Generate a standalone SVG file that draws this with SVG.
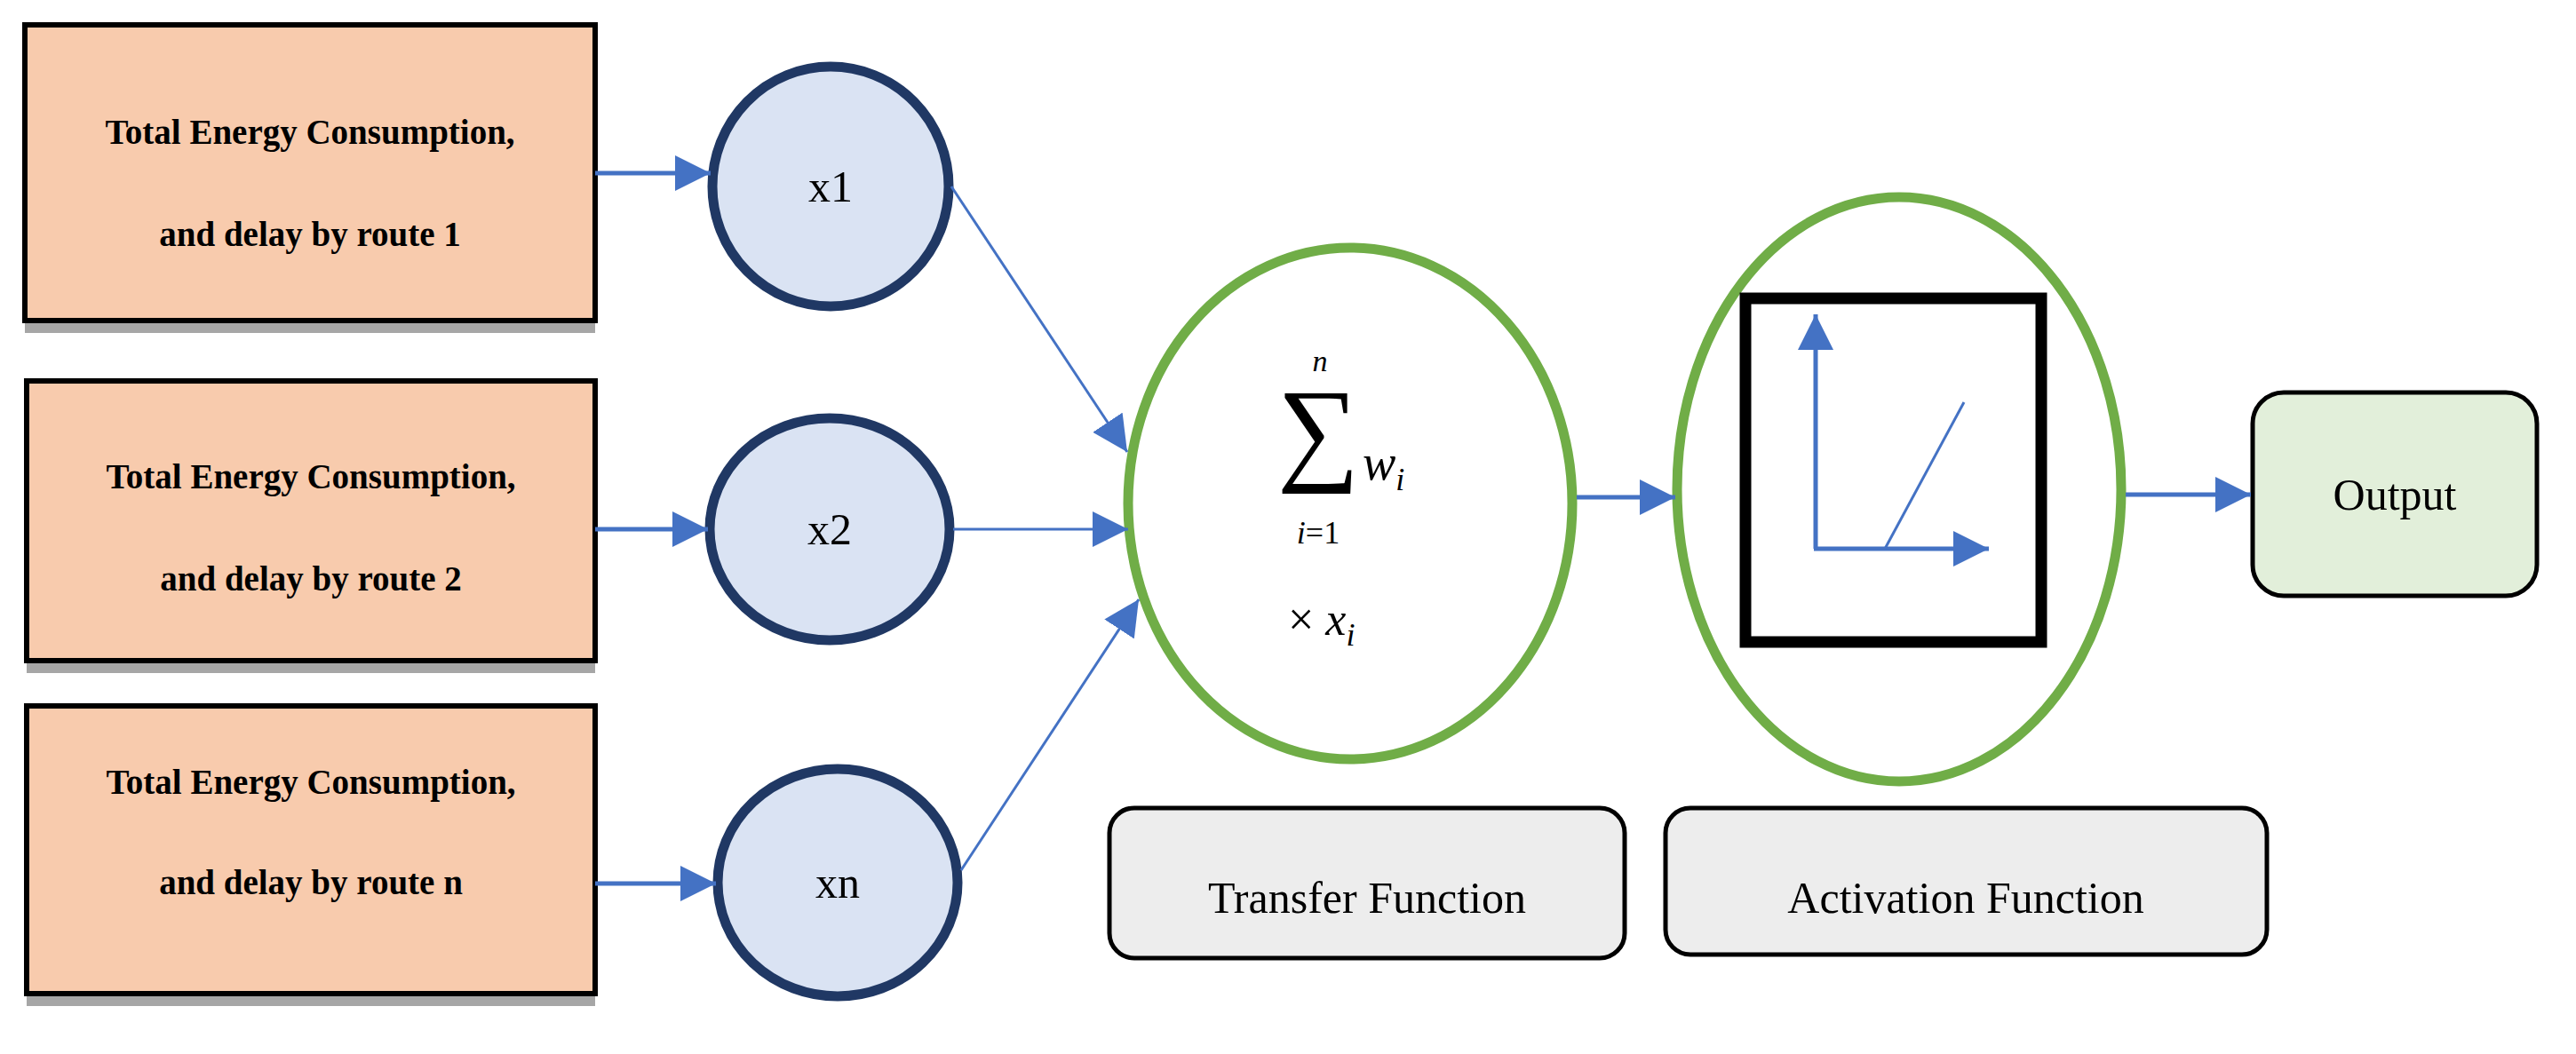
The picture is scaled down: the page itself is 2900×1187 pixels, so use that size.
<svg xmlns="http://www.w3.org/2000/svg" width="2900" height="1187" viewBox="0 0 2900 1187">
<style>
.box{fill:#f8cbad;stroke:#000;stroke-width:6}
.sh{fill:#a6a6a6}
.bt{font-family:"Liberation Serif",serif;font-weight:bold;font-size:39px;text-anchor:middle}
.cir{fill:#dae3f3;stroke:#203864;stroke-width:11}
.t{font-family:"Liberation Serif",serif;font-size:50px;text-anchor:middle}
.m{font-family:"Liberation Serif",serif;font-style:italic}
.g{fill:#fff;stroke:#70ad47;stroke-width:11}
.lab{fill:#ededed;stroke:#000;stroke-width:5}
.c{stroke:#4472c4;stroke-width:3;fill:none}
.c2{stroke:#4472c4;stroke-width:5;fill:none}
</style>
<defs>
<marker id="b" viewBox="0 0 10 10" refX="10" refY="5" markerWidth="40" markerHeight="40" markerUnits="userSpaceOnUse" orient="auto"><path d="M0,0L10,5L0,10z" fill="#4472c4"/></marker>
</defs>
<g id="in1"><rect class="sh" x="28" y="340" width="642" height="35"/><rect class="box" x="28" y="28" width="642" height="333"/><text class="bt" x="349" y="162">Total Energy Consumption,</text><text class="bt" x="349" y="277">and delay by route 1</text></g>
<g id="in2"><rect class="sh" x="30" y="720" width="640" height="38"/><rect class="box" x="30" y="429" width="640" height="315"/><text class="bt" x="350" y="550">Total Energy Consumption,</text><text class="bt" x="350" y="665">and delay by route 2</text></g>
<g id="in3"><rect class="sh" x="30" y="1100" width="640" height="33"/><rect class="box" x="30" y="795" width="640" height="324"/><text class="bt" x="350" y="894">Total Energy Consumption,</text><text class="bt" x="350" y="1007">and delay by route n</text></g>
<g id="x1"><ellipse class="cir" cx="935" cy="210" rx="133" ry="135"/><text class="t" x="935" y="227">x1</text></g>
<g id="x2"><ellipse class="cir" cx="934" cy="596" rx="135" ry="125"/><text class="t" x="934" y="613">x2</text></g>
<g id="xn"><ellipse class="cir" cx="943" cy="994" rx="135" ry="128"/><text class="t" x="943" y="1011">xn</text></g>
<g id="transfer"><ellipse class="g" cx="1520" cy="567" rx="250" ry="288"/>
<text class="m" x="1486" y="418" font-size="34" text-anchor="middle">n</text>
<text x="1484" y="528" font-family="Liberation Serif,serif" font-size="130" text-anchor="middle">∑</text>
<text class="m" x="1534" y="540" font-size="56">w<tspan font-size="36" dy="12">i</tspan></text>
<text class="m" x="1484" y="612" font-size="36" text-anchor="middle">i<tspan font-style="normal">=1</tspan></text>
<text x="1450" y="715" font-family="Liberation Serif,serif" font-size="52">× <tspan font-style="italic">x</tspan><tspan font-style="italic" font-size="36" dy="12">i</tspan></text>
</g>
<g id="activation"><ellipse class="g" cx="2138" cy="551" rx="250" ry="329"/>
<rect x="1965" y="336" width="333" height="387" fill="#fff" stroke="#000" stroke-width="13"/>
<line class="c2" x1="2044" y1="618" x2="2044" y2="354" marker-end="url(#b)"/>
<line class="c2" x1="2042" y1="618" x2="2239" y2="618" marker-end="url(#b)"/>
<line class="c" x1="2122" y1="618" x2="2211" y2="453"/>
</g>
<g id="output"><rect x="2536" y="442" width="320" height="229" rx="35" fill="#e2efda" stroke="#000" stroke-width="5"/><text class="t" x="2696" y="574">Output</text></g>
<g id="lbl1"><rect class="lab" x="1249" y="910" width="580" height="169" rx="28"/><text class="t" x="1539" y="1028">Transfer Function</text></g>
<g id="lbl2"><rect class="lab" x="1875" y="910" width="677" height="165" rx="28"/><text class="t" x="2213" y="1028">Activation Function</text></g>
<g id="connectors">
<line class="c2" x1="670" y1="195" x2="800" y2="195" marker-end="url(#b)"/>
<line class="c2" x1="670" y1="596" x2="797" y2="596" marker-end="url(#b)"/>
<line class="c2" x1="670" y1="995" x2="806" y2="995" marker-end="url(#b)"/>
<line class="c" x1="1071" y1="210" x2="1269" y2="509" marker-end="url(#b)"/>
<line class="c" x1="1073" y1="596" x2="1270" y2="596" marker-end="url(#b)"/>
<line class="c" x1="1082" y1="980" x2="1282" y2="675" marker-end="url(#b)"/>
<line class="c2" x1="1775" y1="560" x2="1886" y2="560" marker-end="url(#b)"/>
<line class="c2" x1="2393" y1="557" x2="2534" y2="557" marker-end="url(#b)"/>
</g>
</svg>
